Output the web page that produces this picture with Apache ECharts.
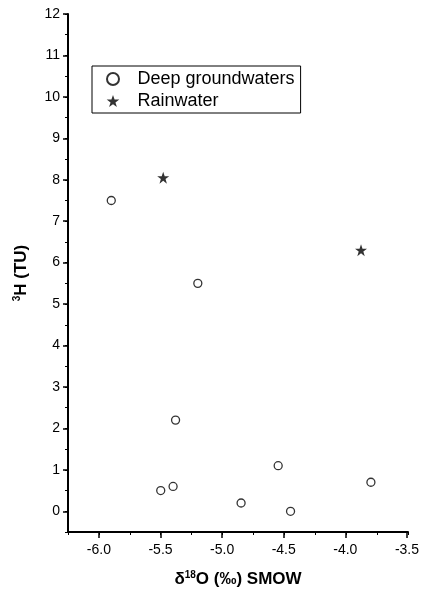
<!DOCTYPE html>
<html>
<head>
<meta charset="utf-8">
<script src="https://cdn.jsdelivr.net/npm/echarts@6/dist/echarts.min.js"></script>
<style>html,body{margin:0;padding:0;background:#fff;}#c{width:422px;height:594px;}</style>
</head>
<body>
<div id="c"></div>
<script>
// Data
var deepX = [-5.9, -5.2, -5.38, -5.5, -5.4, -4.85, -4.55, -4.45, -3.8];
var deepY = [7.5, 5.5, 2.2, 0.5, 0.6, 0.2, 1.1, 0.0, 0.7];
var rainX = [-5.48, -3.88];
var rainY = [8.05, 6.3];
var seriesNames = ['Deep groundwaters', 'Rainwater'];

var STAR = 'path://M50,0 L61.8,34.5 L97.6,34.5 L68.5,55.9 L79.4,90.5 L50,69.1 L20.6,90.5 L31.5,55.9 L2.4,34.5 L38.2,34.5 Z';
function pairs(xs, ys){ return xs.map(function(x,i){ return [x, ys[i]]; }); }

var font = 'Liberation Sans, Arial, sans-serif';
var L = 68, T = 14, W = 340, H = 518;
var xMin = -6.25, xMax = -3.5, yMin = -0.5, yMax = 12;
var gx = L + W * (-6.0 - xMin) / (xMax - xMin);
var gw = L + W - gx;
var gh = H * (yMax - 0) / (yMax - yMin);

var chart = echarts.init(document.getElementById('c'), null, {renderer: 'canvas'});
chart.setOption({
  animation: false,
  backgroundColor: '#fff',
  textStyle: {fontFamily: font},
  grid: [
    {left: L, top: T, width: W, height: H},
    {left: gx, top: T, width: gw, height: gh}
  ],
  legend: {
    left: 92, top: 66, orient: 'vertical',
    data: seriesNames,
    itemWidth: 25, itemHeight: 12, itemGap: 4,
    padding: [4, 6, 3, 14],
    borderColor: '#000', borderWidth: 1,
    textStyle: {fontSize: 18, color: '#000', fontFamily: font, padding: [0, 0, 0, 7]}
  },
  xAxis: [
    {gridIndex: 0, type: 'value', min: xMin, max: xMax, interval: 0.25,
     axisLine: {show: true, onZero: false, lineStyle: {color: '#000', width: 2}},
     axisTick: {show: true, inside: false, length: 3, lineStyle: {color: '#000', width: 1}},
     axisLabel: {show: false}, splitLine: {show: false},
     name: 'δ{sup|18}O (‰) SMOW', nameLocation: 'middle', nameGap: 38,
     nameTextStyle: {fontSize: 17, fontWeight: 'bold', color: '#000', fontFamily: font,
       rich: {sup: {fontSize: 10, fontWeight: 'bold', color: '#000', fontFamily: font, padding: [0, 0, 8, 0]}}}
    },
    {gridIndex: 1, type: 'value', min: -6.0, max: -3.5, interval: 0.5, offset: H - gh,
     axisLine: {show: false, onZero: false},
     axisTick: {show: true, inside: false, length: 6, lineStyle: {color: '#000', width: 1.5}},
     axisLabel: {show: true, margin: 11, fontSize: 14, color: '#000', fontFamily: font,
       formatter: function(v){ return v.toFixed(1); }},
     splitLine: {show: false}
    }
  ],
  yAxis: [
    {gridIndex: 0, type: 'value', min: yMin, max: yMax, interval: 0.5,
     axisLine: {show: true, onZero: false, lineStyle: {color: '#000', width: 2}},
     axisTick: {show: true, inside: false, length: 3, lineStyle: {color: '#000', width: 1}},
     axisLabel: {show: false}, splitLine: {show: false},
     name: '{sup|3}H (TU)', nameLocation: 'middle', nameGap: 38, nameRotate: 90,
     nameTextStyle: {fontSize: 17, fontWeight: 'bold', color: '#000', fontFamily: font,
       rich: {sup: {fontSize: 10, fontWeight: 'bold', color: '#000', fontFamily: font, padding: [0, 0, 8, 0]}}}
    },
    {gridIndex: 1, type: 'value', min: 0, max: 12, interval: 1, offset: gx - L,
     axisLine: {show: false, onZero: false},
     axisTick: {show: true, inside: false, length: 5, lineStyle: {color: '#000', width: 1.5}},
     axisLabel: {show: true, margin: 8, fontSize: 14, color: '#000', fontFamily: font},
     splitLine: {show: false}
    }
  ],
  series: [
    {name: seriesNames[0], type: 'scatter', xAxisIndex: 0, yAxisIndex: 0,
     symbol: 'circle', symbolSize: 8,
     itemStyle: {color: '#fff', borderColor: '#000', borderWidth: 1.3},
     data: pairs(deepX, deepY)},
    {name: seriesNames[1], type: 'scatter', xAxisIndex: 0, yAxisIndex: 0,
     symbol: STAR, symbolSize: 12,
     itemStyle: {color: '#000'},
     data: pairs(rainX, rainY)}
  ]
});
</script>
</body>
</html>
